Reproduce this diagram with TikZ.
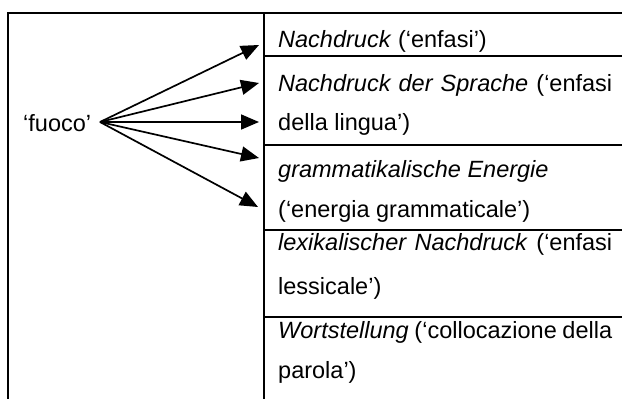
\documentclass[tikz,border=0pt]{standalone}
\usepackage{fontspec}
\setmainfont{Liberation Sans}
\usetikzlibrary{arrows.meta}
\tikzset{
  frame/.style={line width=2pt},
  arr/.style={line width=1.7pt,-{Triangle[length=18pt,width=15pt]}},
  txt/.style={inner sep=0pt,anchor=base west,font=\fontsize{23.5}{40}\selectfont},
}
\newcommand{\jline}[1]{\makebox[334pt][s]{#1}}
\begin{document}
\begin{tikzpicture}[x=1pt,y=-1pt]
\useasboundingbox (0,0) rectangle (622,399);
% frame
\draw[frame] (8,399) -- (8,13) -- (622,13);
\draw[frame] (263.5,13) -- (263.5,399);
\draw[frame] (263.5,56) -- (622,56);
\draw[frame] (263.5,144.5) -- (622,144.5);
\draw[frame] (263.5,230) -- (622,230);
\draw[frame] (263.5,317) -- (622,317);
% left text
\node[txt] (fuoco) at (23,131) {‘fuoco’};
\coordinate (src) at (100,122);
% right texts
\node[txt] (r1) at (278,47) {\textit{Nachdruck} (‘enfasi’)};
\node[txt] (r2a) at (278,91) {\jline{\textit{Nachdruck der Sprache} (‘enfasi}};
\node[txt] (r2b) at (278,130) {della lingua’)};
\node[txt] (r3a) at (278,177) {\textit{grammatikalische Energie}};
\node[txt] (r3b) at (278,217) {(‘energia grammaticale’)};
\node[txt] (r4a) at (278,250) {\jline{\textit{lexikalischer Nachdruck} (‘enfasi}};
\node[txt] (r4b) at (278,294) {lessicale’)};
\node[txt] (r5a) at (278,338) {\jline{\textit{Wortstellung} (‘collocazione della}};
\node[txt] (r5b) at (278,378) {parola’)};
% arrow targets
\coordinate (t1) at (259,45);
\coordinate (t2) at (259,83);
\coordinate (t3) at (259,122);
\coordinate (t4) at (259,158);
\coordinate (t5) at (258,207);
\foreach \t in {t1,t2,t3,t4,t5} \draw[arr] (src) -- (\t);
\end{tikzpicture}
\end{document}
